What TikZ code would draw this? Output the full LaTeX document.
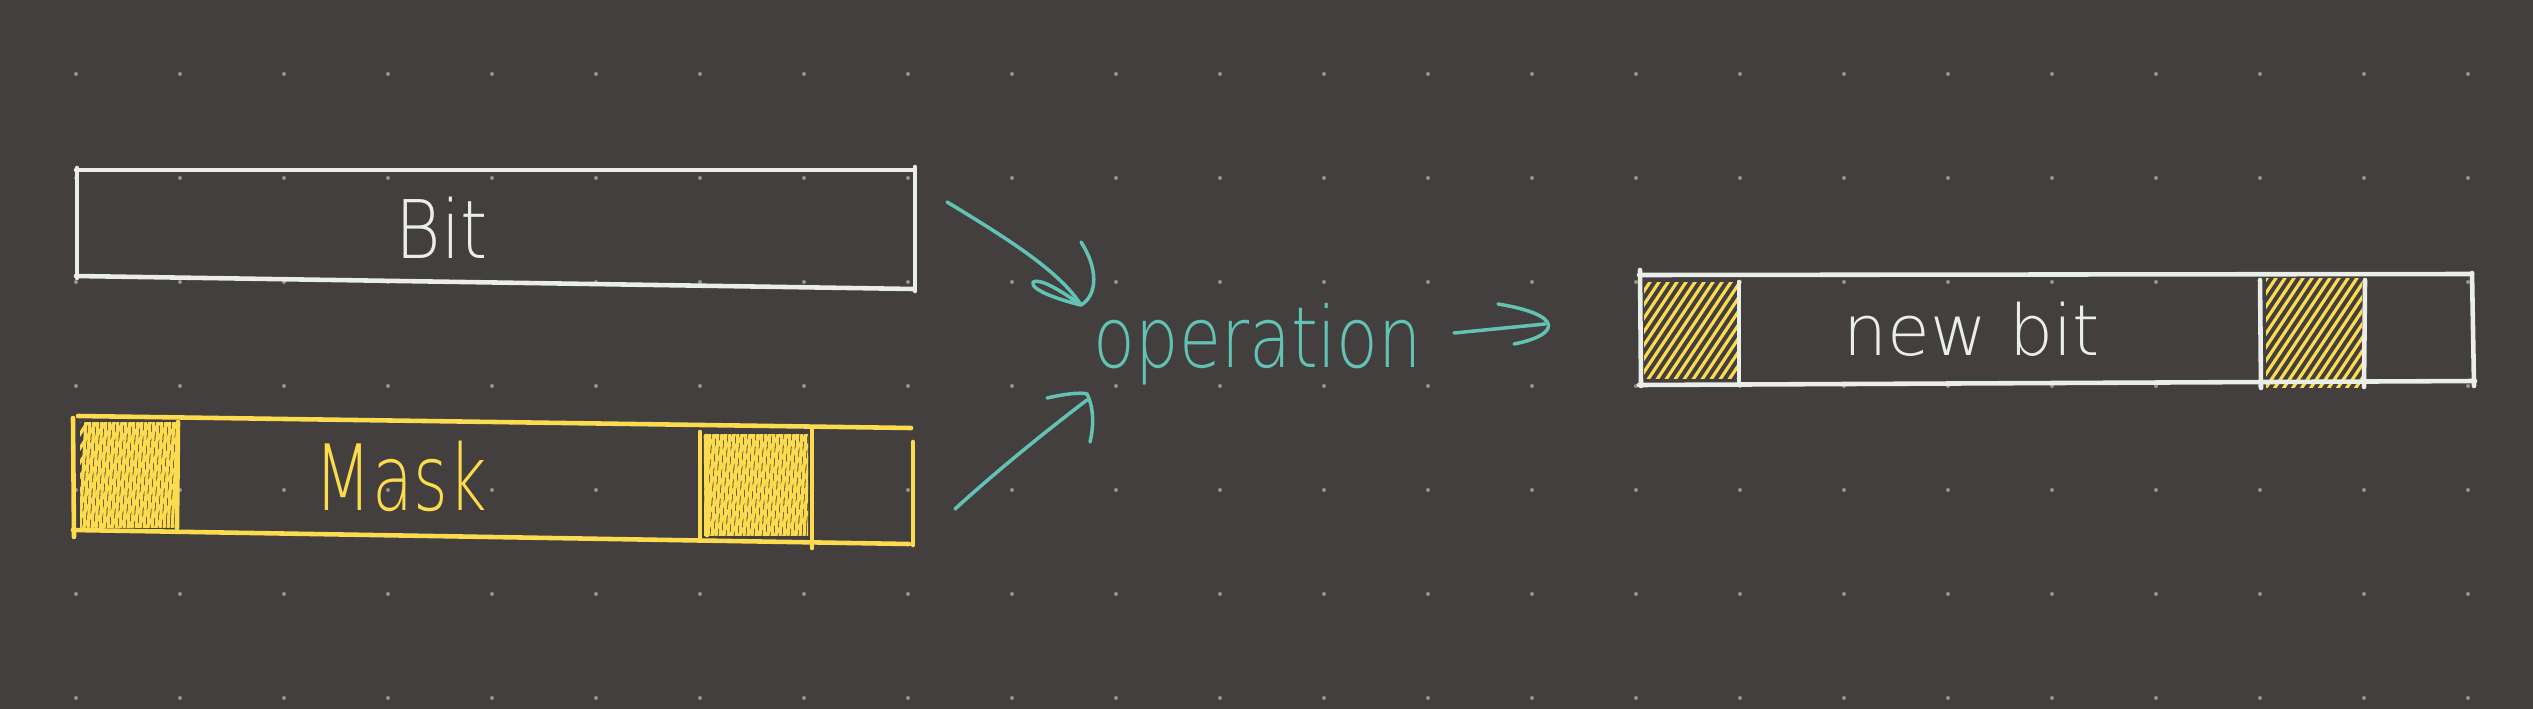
\documentclass[tikz,border=0pt]{standalone}
\usepackage{fontspec}
\newfontfamily\thin{DejaVu Sans ExtraLight}
\definecolor{bg}{RGB}{67,63,62}
\definecolor{wht}{RGB}{234,238,233}
\definecolor{ylw}{RGB}{253,219,78}
\definecolor{tea}{RGB}{98,195,180}
\definecolor{dotc}{RGB}{150,146,144}
\begin{document}
\begin{tikzpicture}[x=0.01cm,y=-0.01cm,
  wline/.style={draw=wht,line width=1.3pt,line cap=round},
  yline/.style={draw=ylw,line width=1.3pt,line cap=round},
  tline/.style={draw=tea,line width=1.0pt,line cap=round,line join=round},
  hatch/.style={draw=ylw,line width=0.9pt,line cap=round},
  lbl/.style={inner sep=0pt,anchor=base}]
\fill[bg] (0,0) rectangle (2533,709);
\useasboundingbox (0,0) rectangle (2533,709);
% dot grid
\foreach \i in {0,...,23}{\foreach \j in {0,...,6}{
  \fill[dotc] (76+104*\i,74+104*\j) circle[radius=0.02cm];}}
% ---- Bit box
\coordinate (b1) at (76,170); \coordinate (b2) at (914,170);
\coordinate (b3) at (914,289); \coordinate (b4) at (76,276);
\draw[wline] (b1) -- (b2);
\draw[wline] (b4) -- (b3);
\draw[wline] (77,168) -- (77,278);
\draw[wline] (915,167) -- (915,291);
\node[lbl,text=wht] (bit) at (442,258) {\resizebox{0.92cm}{\height}{\thin\fontsize{23}{23}\selectfont Bit}};
% ---- Mask box
\begin{scope}
\clip (80,422) rectangle (176,527);
\foreach \k in {0,...,24}{\draw[hatch] (80+\k*4,530) -- (86+\k*4,420);}
\foreach \k in {0,...,16}{\draw[hatch] (10+\k*9,530) -- (80+\k*9,420);}
\end{scope}
\begin{scope}
\clip (704,434) rectangle (808,535);
\foreach \k in {0,...,26}{\draw[hatch] (704+\k*4,537) -- (710+\k*4,432);}
\foreach \k in {0,...,18}{\draw[hatch] (630+\k*9,537) -- (700+\k*9,432);}
\end{scope}
\draw[yline] (78,416) -- (911,428);
\draw[yline] (73,530) -- (909,544);
\draw[yline] (73,418) -- (74,537);
\draw[yline] (913,442) -- (913,545);
\draw[yline] (178,422) -- (177,528);
\draw[yline] (700,432) -- (700,537);
\draw[yline] (706,436) -- (707,535);
\draw[yline] (812,430) -- (812,548);
\node[lbl,text=ylw] (mask) at (401,510) {\resizebox{1.72cm}{\height}{\thin\fontsize{26}{26}\selectfont Mask}};
% ---- operation
\node[lbl,text=tea] (op) at (1258,367) {\resizebox{3.28cm}{\height}{\thin\fontsize{24}{24}\selectfont operation}};
% arrows
\coordinate (a1s) at (947,202); \coordinate (a1t) at (1081,305);
\draw[tline] (a1s) .. controls (1010,240) and (1060,272) .. (a1t);
\draw[tline] (1081,242) .. controls (1098,268) and (1098,295) .. (a1t);
\draw[tline] (a1t) .. controls (1060,300) and (1030,290) .. (1033,282) .. controls (1040,278) and (1060,290) .. (a1t);
\coordinate (a2s) at (955,509); \coordinate (a2t) at (1087,400);
\draw[tline] (a2s) .. controls (1000,468) and (1050,428) .. (a2t);
\draw[tline] (1047,398) .. controls (1065,394) and (1080,392) .. (1087,394) .. controls (1095,410) and (1093,430) .. (1090,442);
\coordinate (a3s) at (1454,333); \coordinate (a3t) at (1545,324);
\draw[tline] (a3s) -- (a3t);
\draw[tline] (1498,304) .. controls (1565,315) and (1560,335) .. (1514,344);
% ---- new bit box
\begin{scope}
\clip (1644,282) rectangle (1737,378);
\foreach \k in {0,...,26}{\draw[hatch] (1560+\k*9,390) -- (1640+\k*9,270);}
\end{scope}
\begin{scope}
\clip (2266,278) rectangle (2362,387);
\foreach \k in {0,...,26}{\draw[hatch] (2180+\k*9,395) -- (2260+\k*9,275);}
\end{scope}
\draw[wline] (1639,275) -- (2472,274);
\draw[wline] (1639,385) -- (2475,381);
\draw[wline] (1640,270) -- (1641,386);
\draw[wline] (2472,273) -- (2474,386);
\draw[wline] (1739,282) -- (1739,385);
\draw[wline] (2260,280) -- (2261,388);
\draw[wline] (2365,280) -- (2364,387);
\node[lbl,text=wht] (newbit) at (1972,355) {\resizebox{2.56cm}{\height}{\thin\fontsize{20}{20}\selectfont new bit}};
\end{tikzpicture}
\end{document}
